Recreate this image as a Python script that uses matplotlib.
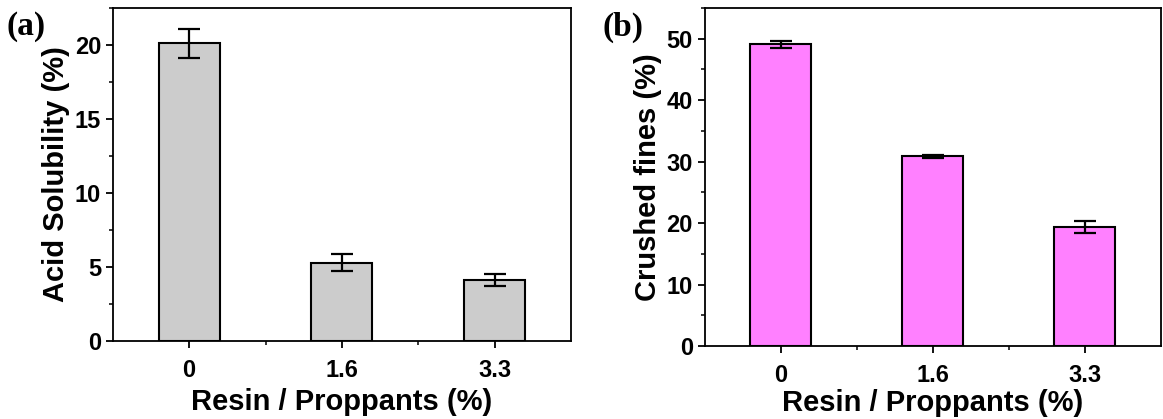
import matplotlib.pyplot as plt
from matplotlib.ticker import MultipleLocator, FixedLocator

plt.rcParams['font.family'] = ['Liberation Sans', 'DejaVu Sans']
plt.rcParams['font.weight'] = 'bold'

# 数据
ratios = ['0', '1.6', '3.3']
acid_sol = [20.1, 5.3, 4.1]
acid_err = [1.0, 0.55, 0.4]
fines = [49.1, 30.9, 19.4]
fines_err = [0.6, 0.25, 1.0]

fig = plt.figure(figsize=(11.63, 4.19), dpi=100)
ax1 = fig.add_axes([0.097, 0.186, 0.394, 0.795])
ax2 = fig.add_axes([0.606, 0.174, 0.392, 0.807])


def draw(ax, vals, errs, color, ylabel, ymax, major, minor, tag, tagx, xpad):
    x = range(len(vals))
    ax.bar(x, vals, width=0.4, color=color, edgecolor='black', linewidth=1.5,
           yerr=errs, capsize=8, error_kw=dict(elinewidth=1.6, capthick=1.6, ecolor='black'))
    ax.set_xlim(-0.5, 2.5)
    ax.set_ylim(0, ymax)
    ax.set_xticks(list(x))
    ax.set_xticklabels(ratios)
    ax.xaxis.set_minor_locator(FixedLocator([0.5, 1.5]))
    ax.yaxis.set_major_locator(MultipleLocator(major))
    ax.yaxis.set_minor_locator(MultipleLocator(minor))
    ax.tick_params(which='major', length=5, width=1.3, labelsize=17, direction='out')
    ax.tick_params(axis='x', which='major', pad=8)
    ax.tick_params(which='minor', length=3, width=1.1, direction='out')
    for s in ax.spines.values():
        s.set_linewidth(1.3)
    ax.set_xlabel('Resin / Proppants (%)', fontsize=21, fontweight='bold', labelpad=xpad)
    ax.set_ylabel(ylabel, fontsize=21, fontweight='bold', labelpad=3)
    for lab in ax.get_xticklabels() + ax.get_yticklabels():
        lab.set_fontweight('bold')
    ax.text(tagx, 0.99, tag, transform=ax.transAxes, fontsize=24, fontweight='bold',
            family='Liberation Serif', va='top', ha='left')


draw(ax1, acid_sol, acid_err, '#cccccc', 'Acid Solubility (%)', 22.5, 5, 2.5, '(a)', -0.232, 4)
draw(ax2, fines, fines_err, '#ff80ff', 'Crushed fines (%)', 55, 10, 5, '(b)', -0.225, 1.5)

fig.savefig('out.png', dpi=100)
